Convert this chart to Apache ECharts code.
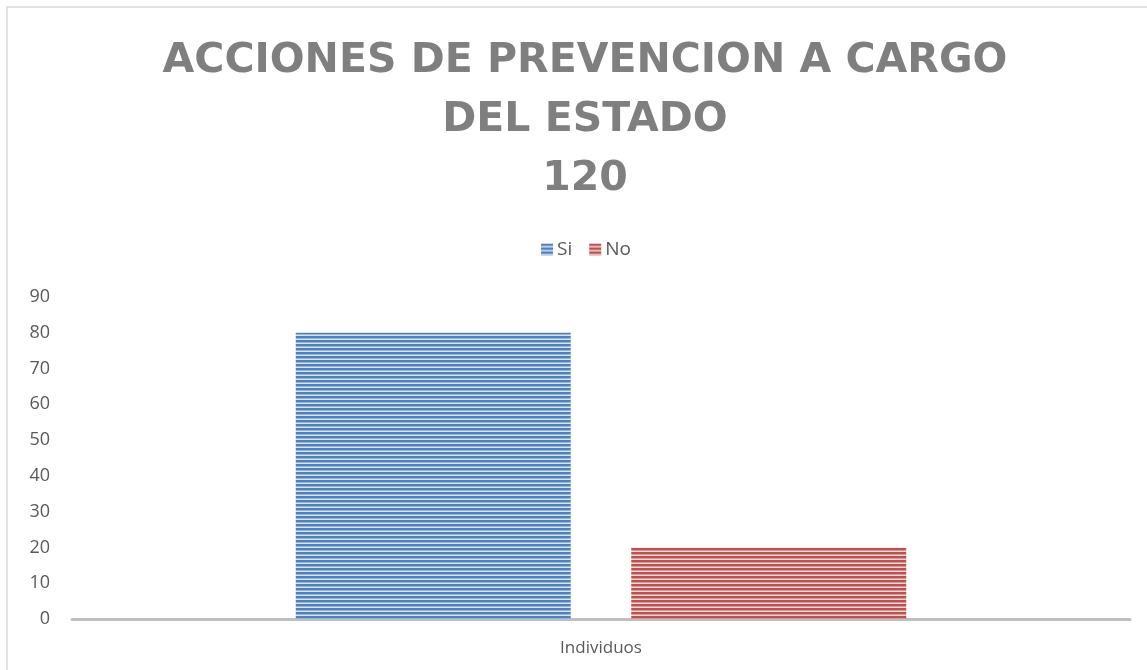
<!DOCTYPE html>
<html>
<head>
<meta charset="utf-8">
<script src="https://cdn.jsdelivr.net/npm/echarts@6/dist/echarts.min.js"></script>
<style>
  html, body { margin: 0; padding: 0; background: #fff; }
  #chart { width: 1147px; height: 670px; }
</style>
</head>
<body>
<div id="chart"></div>
<script>
const titleLines = ['ACCIONES DE PREVENCION A CARGO', 'DEL ESTADO', '120']
const categories = ['Individuos']
const seriesNames = ['Si', 'No']
const siValues = [80]
const noValues = [20]
const yMax = 90
const yStep = 10

// horizontal stripe fill, like the Excel pattern
function stripes(dark, light) {
  const c = document.createElement('canvas')
  c.width = 4; c.height = 4
  const g = c.getContext('2d')
  g.fillStyle = light; g.fillRect(0, 0, 4, 4)
  g.fillStyle = dark; g.fillRect(0, 0, 4, 2)
  g.globalAlpha = 0.5; g.fillRect(0, 2, 4, 1)
  return { image: c, repeat: 'repeat' }
}

const blueFill = stripes('#4f81bd', '#dce6f2')
const redFill = stripes('#c0504d', '#f2dcdb')

const chart = echarts.init(document.getElementById('chart'))
chart.setOption({
  animation: false,
  title: {
    text: titleLines.join('\n'),
    left: 580, textAlign: 'center', top: 27,
    textStyle: { fontFamily: 'DejaVu Sans', fontWeight: 'bold', fontSize: 41, color: '#7f7f7f', lineHeight: 59 }
  },
  legend: {
    top: 235, left: 536,
    itemWidth: 12, itemHeight: 12, itemGap: 17,
    textStyle: { fontFamily: 'Open Sans', fontSize: 19, color: '#595959', padding: [0, 0, 0, -1] },
    data: [
      { name: seriesNames[0], icon: 'rect', itemStyle: { color: blueFill } },
      { name: seriesNames[1], icon: 'rect', itemStyle: { color: redFill } }
    ]
  },
  graphic: [{
    type: 'rect', shape: { x: 7, y: 7, width: 1160, height: 700 },
    style: { fill: 'none', stroke: '#d9d9d9', lineWidth: 1.5 }, silent: true
  }],
  grid: { left: 72, right: 17, top: 297, bottom: 51 },
  xAxis: {
    type: 'category', data: categories,
    axisLine: { lineStyle: { color: '#bfbfbf', width: 3 } },
    axisTick: { show: false },
    axisLabel: { fontFamily: 'Open Sans', fontSize: 17, color: '#595959', margin: 21 }
  },
  yAxis: {
    type: 'value', min: 0, max: yMax, interval: yStep,
    axisLine: { show: false }, axisTick: { show: false }, splitLine: { show: false },
    axisLabel: { fontFamily: 'Open Sans', fontSize: 18, color: '#595959', margin: 22 }
  },
  series: [
    { name: seriesNames[0], type: 'bar', data: siValues, itemStyle: { color: blueFill }, barGap: '22%', barCategoryGap: '42.3%' },
    { name: seriesNames[1], type: 'bar', data: noValues, itemStyle: { color: redFill } }
  ]
})
</script>
</body>
</html>
